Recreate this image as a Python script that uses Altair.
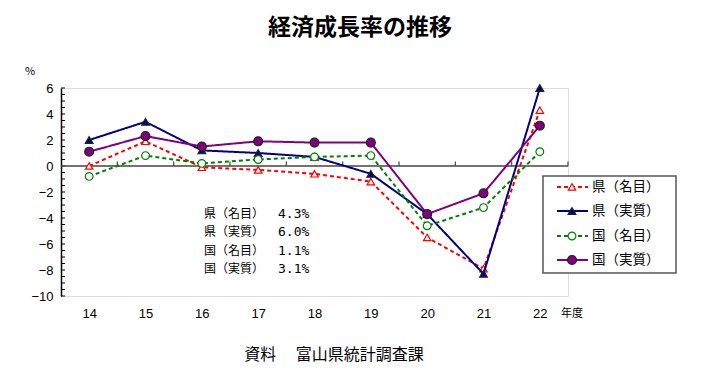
import altair as alt
import pandas as pd

years = [14, 15, 16, 17, 18, 19, 20, 21, 22]
series_names = ["県（名目）", "県（実質）", "国（名目）", "国（実質）"]
ken_nominal = [0.0, 1.9, -0.1, -0.3, -0.6, -1.2, -5.5, -7.9, 4.3]
ken_real = [2.0, 3.4, 1.2, 1.0, 0.7, -0.6, -3.7, -8.3, 6.0]
kuni_nominal = [-0.8, 0.8, 0.2, 0.5, 0.7, 0.8, -4.6, -3.2, 1.1]
kuni_real = [1.1, 2.3, 1.5, 1.9, 1.8, 1.8, -3.7, -2.1, 3.1]
y_labels = [-10, -8, -6, -4, -2, 0, 2, 4, 6]
y_minor = [v / 2 for v in range(-20, 13)]
x_bounds = [14.5, 15.5, 16.5, 17.5, 18.5, 19.5, 20.5, 21.5, 22.5]
latest = ["4.3%", "6.0%", "1.1%", "3.1%"]

styles = [
    dict(color="#ff0000", dash=[4, 3], shape="triangle-up", filled=False, size=55),
    dict(color="#000080", dash=[1, 0], shape="triangle-up", filled=True, size=60),
    dict(color="#008000", dash=[4, 3], shape="circle", filled=False, size=60),
    dict(color="#800080", dash=[1, 0], shape="circle", filled=True, size=80),
]
values_all = [ken_nominal, ken_real, kuni_nominal, kuni_real]

W, H = 507, 208
FONT = "Noto Sans CJK JP"
xs = alt.Scale(domain=[13.5, 22.5], nice=False, zero=False)
ys = alt.Scale(domain=[-10, 6], nice=False, zero=False)
x_axis = alt.Axis(values=years, format="d", title=None, domain=False, ticks=False,
                  grid=False, labelPadding=11, labelFontSize=13,
                  labelFont="Liberation Sans", labelColor="#000",
                  labelOverlap=False, labelFlush=False)
y_axis = alt.Axis(values=y_labels, format="d", title=None, grid=False, ticks=False,
                  domainColor="#000", domainWidth=1.5, labelPadding=8,
                  labelFontSize=13, labelFont="Liberation Sans",
                  labelColor="#000", labelOverlap=False, labelFlush=False)


def X(field):
    return alt.X(field, scale=xs, axis=x_axis)


def Y(field):
    return alt.Y(field, scale=ys, axis=y_axis)


layers = []

# y minor ticks (inside)
minor_df = pd.DataFrame({"v": y_minor})
layers.append(
    alt.Chart(minor_df).mark_rule(color="#000", strokeWidth=1).encode(
        y=Y("v:Q"), x=alt.value(0), x2=alt.value(4)
    )
)

# zero line
zero_df = pd.DataFrame({"a": [13.5], "b": [22.5], "v": [0]})
layers.append(
    alt.Chart(zero_df).mark_rule(color="#444", strokeWidth=1.5).encode(
        x=X("a:Q"), x2="b:Q", y=Y("v:Q")
    )
)
# x ticks on zero line (pointing up)
xt_df = pd.DataFrame({"b": x_bounds, "y0": [0] * len(x_bounds), "y1": [0.35] * len(x_bounds)})
layers.append(
    alt.Chart(xt_df).mark_rule(color="#444", strokeWidth=1.2).encode(
        x=X("b:Q"), y=Y("y0:Q"), y2="y1:Q"
    )
)

# series
for name, vals, st in zip(series_names, values_all, styles):
    df = pd.DataFrame({"year": years, "v": vals})
    base = alt.Chart(df).encode(x=X("year:Q"), y=Y("v:Q"))
    layers.append(base.mark_line(color=st["color"], strokeWidth=2, strokeDash=st["dash"]))
    layers.append(
        base.mark_point(
            shape=st["shape"], size=st["size"], filled=True,
            fill=st["color"] if st["filled"] else "white",
            stroke=st["color"] if not st["filled"] else "#222",
            strokeWidth=1.2, opacity=1,
        )
    )

one = pd.DataFrame({"k": [0]})

# legend box
layers.append(
    alt.Chart(one).mark_rect(fill="white", stroke="#555", strokeWidth=1.5).encode(
        x=alt.value(482), x2=alt.value(615), y=alt.value(88), y2=alt.value(185)
    )
)
row_y = [99, 123, 148, 172]
for name, st, ry in zip(series_names, styles, row_y):
    layers.append(
        alt.Chart(one).mark_rule(color=st["color"], strokeWidth=2, strokeDash=st["dash"]).encode(
            x=alt.value(496), x2=alt.value(527), y=alt.value(ry)
        )
    )
    layers.append(
        alt.Chart(one).mark_point(
            shape=st["shape"], size=st["size"], filled=True,
            fill=st["color"] if st["filled"] else "white",
            stroke=st["color"] if not st["filled"] else "#222",
            strokeWidth=1.2, opacity=1,
        ).encode(x=alt.value(511), y=alt.value(ry))
    )
    layers.append(
        alt.Chart(one).mark_text(align="left", baseline="middle", fontSize=13.5, font=FONT,
                                 color="#000", text=name).encode(
            x=alt.value(531), y=alt.value(ry)
        )
    )

# annotation text
ann_y = [126, 144, 163, 181]
for name, val, ay in zip(series_names, latest, ann_y):
    layers.append(
        alt.Chart(one).mark_text(align="left", baseline="middle", fontSize=12, font=FONT,
                                 color="#000", text=name).encode(
            x=alt.value(143), y=alt.value(ay)
        )
    )
    layers.append(
        alt.Chart(one).mark_text(align="left", baseline="middle", fontSize=13,
                                 font="DejaVu Sans Mono", color="#000", text=val).encode(
            x=alt.value(217), y=alt.value(ay)
        )
    )

# title and other labels
texts = [
    ("経済成長率の推移", 299, -60, 23, "bold", "center"),
    ("%", -31, -16, 11, "normal", "center"),
    ("年度", 511, 226, 11, "normal", "center"),
    ("資料　 富山県統計調査課", 273, 267, 16, "normal", "center"),
]
for t, tx, ty, fs, fw, al in texts:
    layers.append(
        alt.Chart(one).mark_text(align=al, baseline="middle", fontSize=fs, fontWeight=fw,
                                 font=FONT, color="#000", text=t).encode(
            x=alt.value(tx), y=alt.value(ty)
        )
    )

chart = alt.layer(*layers).properties(
    width=W, height=H,
    autosize=alt.AutoSizeParams(type="none"),
    padding={"left": 53, "top": 80, "right": 120, "bottom": 70},
).configure_view(stroke=None).configure(background="white")

chart.save("out.html", embed_options={"renderer": "svg", "actions": False})
